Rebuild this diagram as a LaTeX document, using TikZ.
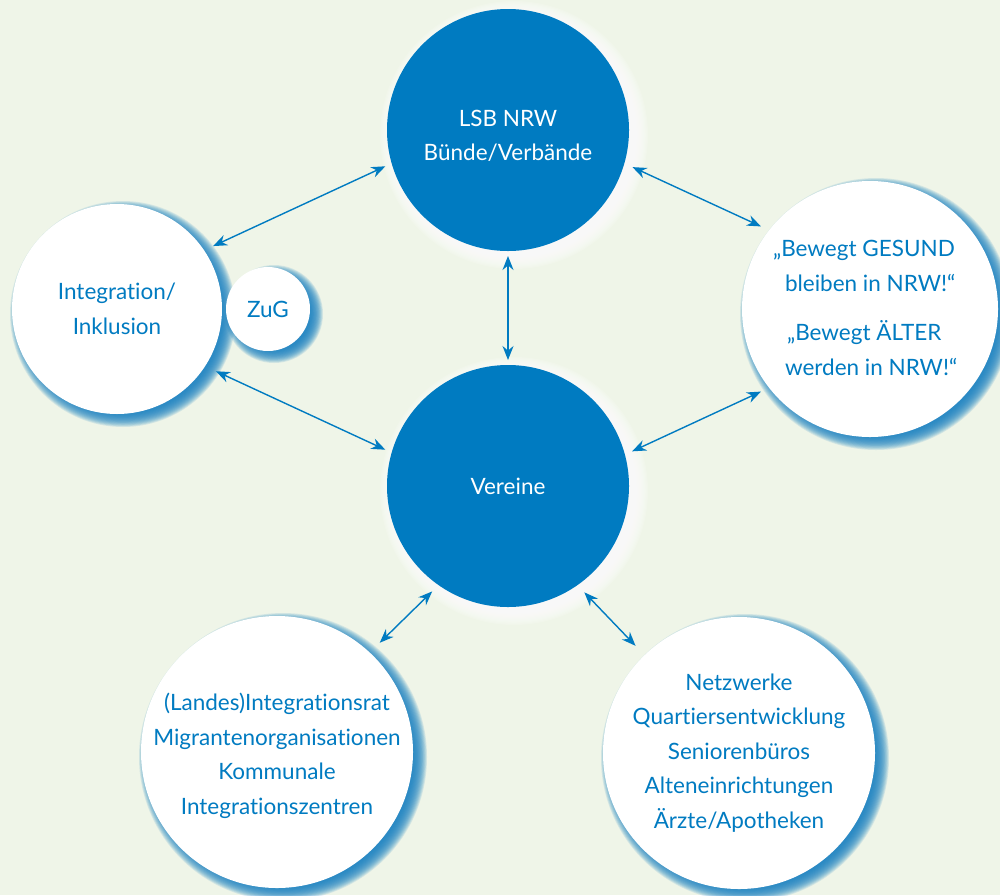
\documentclass[tikz,border=0pt]{standalone}
\usepackage{fontspec}
\setmainfont{Lato}[Ligatures=NoCommon]
\usetikzlibrary{arrows.meta}

\definecolor{bg}{RGB}{239,245,232}
\definecolor{nrwblue}{RGB}{0,123,193}
\definecolor{halo}{RGB}{30,132,196}

% soft offset halo behind a circle:
% centre x, centre y, radius, colour, opacity per layer, reach beyond the rim
\newcommand\softhalo[6]{%
  \foreach \k in {0,...,17}{%
    \pgfmathsetmacro\rr{#3+#6-(#6+6)*\k/17}%
    \fill[#4, fill opacity=#5] (#1+6,#2+5) circle[radius=\rr pt];
  }}

\tikzset{
  bubble/.style={circle, inner sep=0pt, outer sep=0pt, align=center,
    font=\fontsize{22.5}{34.5}\selectfont},
  darkbubble/.style={bubble, fill=nrwblue, text=white},
  lightbubble/.style={bubble, fill=white, text=nrwblue},
  caption/.style={rectangle, inner sep=0pt, outer sep=0pt,
    font=\fontsize{22.5}{34.5}\selectfont},
  link/.style={nrwblue, line width=1.4pt,
    {Stealth[length=14pt,width=11pt]}-{Stealth[length=14pt,width=11pt]}},
}

\begin{document}
\begin{tikzpicture}[x=1pt,y=-1pt]
  \fill[bg] (0,0) rectangle (1000,895);
  \useasboundingbox (0,0) rectangle (1000,895);

  % halos
  \softhalo{117}{309}{105}{halo}{0.13}{8}
  \softhalo{268}{309}{42}{halo}{0.13}{7}
  \softhalo{870}{309}{128}{halo}{0.13}{8}
  \softhalo{277}{752}{136}{halo}{0.13}{8}
  \softhalo{739}{753}{136}{halo}{0.13}{8}
  \softhalo{508}{130}{121}{white}{0.14}{13}
  \softhalo{508}{486}{121}{white}{0.14}{13}

  % circles
  \node[darkbubble, minimum size=242pt] (lsb) at (508,130) {};
  \node[caption, align=center, text=white] (lsbtext) at (508,136)
    {LSB NRW\\Bünde/Verbände};
  \node[darkbubble, minimum size=242pt] (ver) at (508,486) {Vereine};
  \node[lightbubble, minimum size=210pt] (int) at (117,309)
    {Integration/\\Inklusion};
  \node[lightbubble, minimum size=84pt] (zug) at (268,309) {ZuG};
  \node[lightbubble, minimum size=256pt] (ges) at (870,309) {};
  \node[caption, align=left, text=nrwblue, anchor=west] (gestext) at (773,308)
    {„Bewegt GESUND\\
     \hspace*{12pt}bleiben in NRW!“\\[15pt]
     \hspace*{14pt}„Bewegt ÄLTER\\
     \hspace*{12pt}werden in NRW!“};
  \node[lightbubble, minimum size=272pt] (rat) at (277,752) {};
  \node[caption, align=center, text=nrwblue] (rattext) at (277,756)
    {(Landes)Integrationsrat\\Migrantenorganisationen\\Kommunale\\Integrationszentren};
  \node[lightbubble, minimum size=272pt] (netz) at (739,753)
    {Netzwerke\\Quartiersentwicklung\\Seniorenbüros\\Alteneinrichtungen\\Ärzte/Apotheken};

  % connectors
  \draw[link, shorten <=7pt,  shorten >=10pt] (lsb.196) -- (int.34);
  \draw[link, shorten <=9pt,  shorten >=9pt]  (lsb.344) -- (ges.142);
  \draw[link, shorten <=5pt,  shorten >=5pt]  (lsb.south) -- (ver.north);
  \draw[link, shorten <=12pt, shorten >=7pt]  (int.327) -- (ver.164);
  \draw[link, shorten <=9pt,  shorten >=8pt]  (ges.218) -- (ver.15);
  \draw[link, shorten <=9pt,  shorten >=14pt] (ver.235) -- (rat.47);
  \draw[link, shorten <=10pt, shorten >=13pt] (ver.305) -- (netz.134);
\end{tikzpicture}
\end{document}
